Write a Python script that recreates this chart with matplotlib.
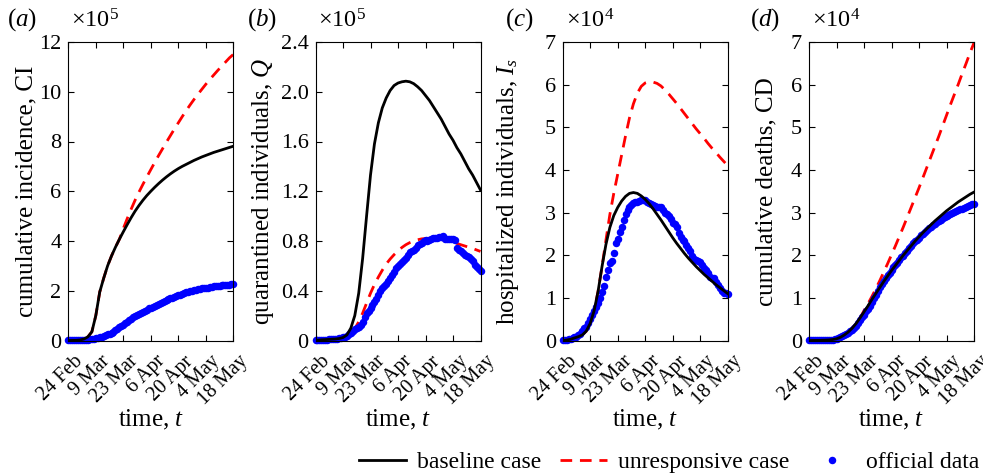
import numpy as np
import matplotlib
matplotlib.use('Agg')
import matplotlib.pyplot as plt
import matplotlib.transforms as mtransforms
from matplotlib.lines import Line2D

plt.rcParams['font.family'] = ['Liberation Serif', 'DejaVu Serif']
plt.rcParams['mathtext.fontset'] = 'custom'
plt.rcParams['mathtext.rm'] = 'Liberation Serif'
plt.rcParams['mathtext.it'] = 'Liberation Serif:italic'

# ---------------- data ----------------
date_labels = ['24 Feb', '9 Mar', '23 Mar', '6 Apr', '20 Apr', '4 May', '18 May']
tick_days = [0, 14, 28, 42, 56, 70, 84]
model_days = list(range(0, 85, 2))

# (a) cumulative incidence, x1e5
ci_baseline = [0, 0.003, 0.006, 0.02, 0.06, 0.15, 0.35, 1.0, 1.95, 2.5, 3.0, 3.4, 3.75, 4.07,
               4.37, 4.66, 4.94, 5.2, 5.43, 5.64, 5.83, 6.0, 6.16, 6.31, 6.45, 6.58, 6.7, 6.81,
               6.91, 7.0, 7.08, 7.16, 7.24, 7.31, 7.38, 7.44, 7.5, 7.56, 7.61, 7.66, 7.71, 7.76, 7.81]
ci_unresponsive = [0, 0.003, 0.006, 0.02, 0.06, 0.15, 0.35, 1.0, 1.95, 2.5, 3.0, 3.4, 3.75, 4.07,
                   4.5, 4.9, 5.28, 5.64, 5.97, 6.28, 6.58, 6.87, 7.16, 7.44, 7.71, 7.98, 8.24, 8.5,
                   8.75, 9.0, 9.24, 9.47, 9.69, 9.9, 10.1, 10.3, 10.49, 10.67, 10.85, 11.02, 11.19,
                   11.36, 11.5]
ci_official = [0.002, 0.003, 0.004, 0.007, 0.009, 0.011, 0.017, 0.020, 0.025, 0.031, 0.039, 0.046,
               0.059, 0.074, 0.092, 0.101, 0.125, 0.151, 0.177, 0.212, 0.247, 0.280, 0.315, 0.357,
               0.410, 0.470, 0.536, 0.591, 0.639, 0.692, 0.744, 0.805, 0.865, 0.925, 0.977, 1.017,
               1.058, 1.106, 1.152, 1.198, 1.246, 1.289, 1.325, 1.356, 1.394, 1.436, 1.476, 1.523,
               1.564, 1.595, 1.625, 1.652, 1.689, 1.724, 1.759, 1.790, 1.812, 1.840, 1.873, 1.900,
               1.930, 1.954, 1.977, 1.994, 2.015, 2.036, 2.055, 2.074, 2.093, 2.107, 2.119, 2.130,
               2.145, 2.159, 2.172, 2.183, 2.191, 2.198, 2.212, 2.221, 2.231, 2.239, 2.248, 2.254,
               2.259]

# (b) quarantined individuals, x1e5
q_baseline = [0, 0.004, 0.006, 0.008, 0.01, 0.012, 0.016, 0.024, 0.045, 0.1, 0.2, 0.38, 0.66, 1.0,
              1.33, 1.58, 1.75, 1.87, 1.95, 2.01, 2.05, 2.07, 2.08, 2.085, 2.08, 2.065, 2.04, 2.01,
              1.97, 1.93, 1.88, 1.83, 1.78, 1.72, 1.66, 1.61, 1.55, 1.5, 1.44, 1.38, 1.33, 1.27, 1.21]
q_unresponsive = [0, 0.003, 0.005, 0.007, 0.009, 0.011, 0.015, 0.022, 0.035, 0.058, 0.095, 0.15,
                  0.22, 0.3, 0.38, 0.45, 0.51, 0.565, 0.615, 0.655, 0.69, 0.72, 0.748, 0.77, 0.787,
                  0.8, 0.81, 0.817, 0.82, 0.822, 0.822, 0.818, 0.812, 0.805, 0.797, 0.789, 0.78,
                  0.77, 0.76, 0.75, 0.74, 0.728, 0.716]
q_official = [0.001, 0.002, 0.002, 0.003, 0.004, 0.005, 0.008, 0.009, 0.010, 0.011, 0.012, 0.011,
              0.018, 0.022, 0.029, 0.026, 0.037, 0.050, 0.062, 0.079, 0.093, 0.102, 0.111, 0.121,
              0.149, 0.192, 0.221, 0.238, 0.265, 0.287, 0.309, 0.336, 0.367, 0.395, 0.426, 0.438,
              0.454, 0.481, 0.505, 0.526, 0.553, 0.583, 0.603, 0.616, 0.631, 0.649, 0.665, 0.687,
              0.711, 0.723, 0.731, 0.747, 0.768, 0.772, 0.787, 0.798, 0.807, 0.803, 0.812, 0.817,
              0.823, 0.822, 0.827, 0.835, 0.836, 0.837, 0.817, 0.818, 0.818, 0.814, 0.817, 0.808,
              0.744, 0.731, 0.722, 0.700, 0.687, 0.680, 0.674, 0.654, 0.641, 0.605, 0.590, 0.573,
              0.556]

# (c) hospitalized individuals, x1e4
h_baseline = [0, 0.01, 0.03, 0.06, 0.09, 0.13, 0.22, 0.4, 0.7, 1.15, 1.73, 2.25, 2.65, 2.93, 3.12,
              3.27, 3.38, 3.45, 3.47, 3.45, 3.39, 3.31, 3.21, 3.09, 2.96, 2.83, 2.69, 2.55, 2.41,
              2.28, 2.16, 2.04, 1.93, 1.83, 1.73, 1.64, 1.55, 1.47, 1.39, 1.31, 1.24, 1.17, 1.1]
h_unresponsive = [0, 0.01, 0.03, 0.06, 0.09, 0.13, 0.22, 0.4, 0.7, 1.15, 1.73, 2.35, 2.95, 3.45,
                  3.9, 4.35, 4.8, 5.22, 5.55, 5.8, 5.96, 6.04, 6.07, 6.06, 6.03, 5.97, 5.88, 5.78,
                  5.67, 5.56, 5.44, 5.32, 5.2, 5.08, 4.96, 4.85, 4.74, 4.62, 4.51, 4.41, 4.3, 4.2,
                  4.1]
h_official = [0.013, 0.015, 0.016, 0.030, 0.041, 0.051, 0.078, 0.091, 0.126, 0.164, 0.214, 0.286,
              0.322, 0.421, 0.505, 0.592, 0.687, 0.780, 0.875, 0.989, 1.134, 1.288, 1.495, 1.662,
              1.826, 1.868, 2.057, 2.286, 2.390, 2.533, 2.660, 2.837, 2.976, 3.053, 3.129, 3.178,
              3.222, 3.244, 3.259, 3.281, 3.300, 3.293, 3.287, 3.251, 3.218, 3.200, 3.174, 3.153,
              3.119, 3.128, 3.120, 3.072, 2.983, 2.973, 2.910, 2.842, 2.758, 2.738, 2.652, 2.514,
              2.424, 2.364, 2.338, 2.231, 2.159, 2.101, 1.984, 1.915, 1.890, 1.874, 1.830, 1.770,
              1.710, 1.649, 1.580, 1.487, 1.465, 1.454, 1.382, 1.307, 1.231, 1.160, 1.118, 1.107,
              1.096]

# (d) cumulative deaths, x1e4
cd_baseline = [0, 0.001, 0.002, 0.004, 0.007, 0.012, 0.022, 0.04, 0.075, 0.13, 0.2, 0.29, 0.4,
               0.53, 0.67, 0.81, 0.96, 1.1, 1.24, 1.38, 1.51, 1.64, 1.76, 1.88, 2.0, 2.11, 2.22,
               2.33, 2.43, 2.53, 2.62, 2.71, 2.8, 2.88, 2.96, 3.04, 3.11, 3.18, 3.25, 3.31, 3.37,
               3.43, 3.48]
cd_unresponsive = [0, 0.001, 0.002, 0.004, 0.007, 0.012, 0.022, 0.04, 0.075, 0.13, 0.2, 0.29, 0.4,
                   0.53, 0.7, 0.86, 1.03, 1.21, 1.4, 1.6, 1.8, 2.01, 2.22, 2.44, 2.66, 2.89, 3.12,
                   3.35, 3.58, 3.82, 4.06, 4.3, 4.54, 4.78, 5.03, 5.28, 5.53, 5.77, 6.01, 6.26,
                   6.5, 6.75, 6.98]
cd_official = [0.001, 0.001, 0.001, 0.002, 0.002, 0.003, 0.003, 0.005, 0.008, 0.011, 0.015, 0.020,
               0.023, 0.037, 0.046, 0.063, 0.083, 0.102, 0.127, 0.144, 0.181, 0.216, 0.250, 0.298,
               0.341, 0.403, 0.483, 0.548, 0.608, 0.682, 0.750, 0.817, 0.913, 1.002, 1.078, 1.159,
               1.243, 1.316, 1.392, 1.468, 1.536, 1.589, 1.652, 1.713, 1.767, 1.828, 1.885, 1.947,
               1.990, 2.047, 2.107, 2.165, 2.217, 2.275, 2.323, 2.366, 2.411, 2.465, 2.509, 2.555,
               2.597, 2.638, 2.664, 2.698, 2.736, 2.768, 2.797, 2.824, 2.871, 2.888, 2.908, 2.932,
               2.968, 2.996, 3.020, 3.040, 3.056, 3.074, 3.091, 3.111, 3.137, 3.161, 3.176, 3.191,
               3.201]

panel_letters = ['a', 'b', 'c', 'd']
y_labels = ['cumulative incidence, CI', 'quarantined individuals, $Q$',
            'hospitalized individuals, $I_s$', 'cumulative deaths, CD']
exponents = [5, 5, 4, 4]
y_ticks = [[0, 2, 4, 6, 8, 10, 12], [0, 0.4, 0.8, 1.2, 1.6, 2.0, 2.4],
           [0, 1, 2, 3, 4, 5, 6, 7], [0, 1, 2, 3, 4, 5, 6, 7]]
y_ticklabels = [['0', '2', '4', '6', '8', '10', '12'],
                ['0', '0.4', '0.8', '1.2', '1.6', '2.0', '2.4'],
                ['0', '1', '2', '3', '4', '5', '6', '7'],
                ['0', '1', '2', '3', '4', '5', '6', '7']]
series = [(ci_baseline, ci_unresponsive, ci_official),
          (q_baseline, q_unresponsive, q_official),
          (h_baseline, h_unresponsive, h_official),
          (cd_baseline, cd_unresponsive, cd_official)]
legend_labels = ['baseline case', 'unresponsive case', 'official data']

# ---------------- layout ----------------
W, H = 983, 476
fig = plt.figure(figsize=(W / 100, H / 100), dpi=100)

ax_left_px = [68.3, 315.5, 562.7, 809.0]
ax_width_px = 165.0
ax_top_px, ax_bottom_px = 42.0, 340.5
ylabel_x = [-0.185, -0.24, -0.25, -0.19]
panel_label_px = [7, 247, 505, 750]

TICK_FS = 16
XTICK_FS = 14.5
LABEL_FS = 18
DOT = 5.4

label_offset = mtransforms.ScaledTranslation(5 / 100, -11.5 / 100, fig.dpi_scale_trans)

for i in range(4):
    l = ax_left_px[i] / W
    b = 1 - ax_bottom_px / H
    w = ax_width_px / W
    h = (ax_bottom_px - ax_top_px) / H
    ax = fig.add_axes([l, b, w, h])
    base, unres, off = series[i]
    ax.plot(model_days, base, color='black', lw=2.0, zorder=3)
    ax.plot(model_days, unres, color='#ff0000', lw=2.0, dashes=(4.2, 2.8), zorder=2)
    ax.plot(np.arange(len(off)), off, linestyle='none', marker='o', markersize=DOT,
            markerfacecolor='#0000ff', markeredgecolor='#0000ff', markeredgewidth=0,
            zorder=2.5, clip_on=False)
    ax.set_xlim(0, 84)
    ax.set_ylim(y_ticks[i][0], y_ticks[i][-1])
    ax.set_xticks(tick_days)
    ax.set_xticklabels([])
    trans = mtransforms.blended_transform_factory(ax.transData, ax.transAxes) + label_offset
    for d, lab in zip(tick_days, date_labels):
        ax.text(d, 0, lab, transform=trans, rotation=45, ha='right', va='top',
                rotation_mode='anchor', fontsize=XTICK_FS, clip_on=False)
    ax.set_yticks(y_ticks[i])
    ax.set_yticklabels(y_ticklabels[i], fontsize=TICK_FS)
    ax.tick_params(direction='in', length=4, width=0.8, top=True, right=True, pad=5)
    for s in ax.spines.values():
        s.set_linewidth(0.8)
    ax.set_ylabel(y_labels[i], fontsize=LABEL_FS)
    ax.yaxis.set_label_coords(ylabel_x[i], 0.5)
    ax.set_xlabel('time, $t$', fontsize=LABEL_FS)
    ax.xaxis.set_label_coords(0.5, -0.225)
    fig.text((ax_left_px[i] + 3) / W, 1 - 28 / H, r'$\times10^{%d}$' % exponents[i],
             fontsize=17.5, ha='left', va='baseline')
    fig.text(panel_label_px[i] / W, 1 - 26 / H, '($%s$)' % panel_letters[i],
             fontsize=LABEL_FS, ha='left', va='baseline')

handles = [Line2D([], [], color='black', lw=2.0),
           Line2D([], [], color='#ff0000', lw=2.0, dashes=(4.2, 2.8)),
           Line2D([], [], linestyle='none', marker='o', markersize=DOT,
                  markerfacecolor='#0000ff', markeredgewidth=0)]
fig.legend(handles, legend_labels, loc='center right', bbox_to_anchor=(979 / W, 1 - 462 / H),
           ncol=3, frameon=False, fontsize=17, handlelength=2.0, handletextpad=0.45,
           columnspacing=0.8, borderpad=0, borderaxespad=0)

fig.savefig('out.png', dpi=100)
